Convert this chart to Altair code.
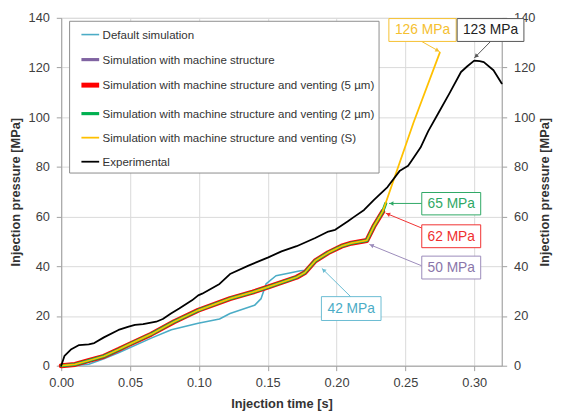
import math
import altair as alt
import pandas as pd

# ---------------- data ----------------
series = [
    "Default simulation",
    "Simulation with machine structure",
    "Simulation with machine structure and venting (5 µm)",
    "Simulation with machine structure and venting (2 µm)",
    "Simulation with machine structure and venting (S)",
    "Experimental",
]
colors = ["#4bacc6", "#8064a2", "#ff0000", "#00b050", "#ffc000", "#000000"]
widths = [1.6, 3.2, 5.0, 3.2, 1.8, 1.8]

# default simulation
def_t = [0.000, 0.010, 0.020, 0.031, 0.0416, 0.0654, 0.080, 0.0995, 0.115, 0.1226,
         0.1404, 0.1452, 0.1488, 0.156, 0.165, 0.1738, 0.176]
def_p = [0.0, 0.1, 0.6, 2.8, 5.2, 11.1, 14.5, 17.1, 18.8, 21.0,
         24.3, 27.0, 32.9, 36.2, 37.2, 38.2, 38.3]

# common path of the machine-structure simulations
sim_t = [0.000, 0.010, 0.019, 0.031, 0.0416, 0.049, 0.0654, 0.082, 0.0995, 0.1226,
         0.139, 0.150, 0.171, 0.177, 0.1845, 0.194, 0.2036, 0.2107, 0.222]
sim_p = [0.0, 0.5, 1.9, 3.8, 6.5, 8.5, 12.7, 17.7, 22.3, 27.0,
         29.6, 31.6, 35.6, 37.5, 42.2, 45.5, 48.1, 49.3, 50.4]
v5_t = [0.227, 0.2335]
v5_p = [56.0, 62.0]
v2_t = [0.227, 0.2335, 0.2357]
v2_p = [56.0, 62.0, 65.3]
vs_t = [0.227, 0.2335, 0.2357, 0.256, 0.275]
vs_p = [56.0, 62.0, 65.5, 98.0, 126.0]

# experimental
exp_t = [0.000, 0.0024, 0.007, 0.013, 0.020, 0.024, 0.031, 0.0416, 0.049, 0.0536,
         0.0595, 0.069, 0.0738, 0.0797, 0.0857, 0.095, 0.0995, 0.1024, 0.115, 0.1226,
         0.136, 0.150, 0.160, 0.171, 0.1845, 0.194, 0.199, 0.208, 0.213, 0.220,
         0.227, 0.237, 0.246, 0.252, 0.2545, 0.261, 0.2666, 0.274, 0.282, 0.2904,
         0.295, 0.300, 0.304, 0.307, 0.314, 0.320]
exp_p = [0.0, 4.0, 6.5, 8.3, 8.6, 9.1, 11.4, 14.4, 15.7, 16.4,
         16.7, 17.7, 18.8, 21.0, 23.0, 26.3, 28.3, 29.0, 32.9, 36.9,
         40.3, 43.5, 46.0, 48.1, 51.4, 54.0, 54.7, 58.0, 60.0, 62.7,
         66.6, 71.9, 78.5, 80.5, 82.5, 87.8, 94.4, 101.7, 109.6, 118.2,
         120.5, 122.8, 122.6, 122.2, 118.9, 113.6]

x_ticks = [0.00, 0.05, 0.10, 0.15, 0.20, 0.25, 0.30]
y_ticks = [0, 20, 40, 60, 80, 100, 120, 140]

# annotations
ann_text = ["126 MPa", "123 MPa", "65 MPa", "62 MPa", "50 MPa", "42 MPa"]
ann_color = ["#f5c030", "#222222", "#2ea865", "#f03030", "#8a76aa", "#4bacc6"]
ann_line = ["#f5c030", "#555555", "#2ea865", "#f03030", "#9a8aba", "#6bbcd2"]
box_x1 = [0.2380, 0.2876, 0.2619, 0.2619, 0.2619, 0.1890]
box_x2 = [0.2869, 0.3361, 0.3047, 0.3047, 0.3047, 0.2323]
box_y1 = [130.5, 130.5, 60.7, 47.5, 34.9, 18.2]
box_y2 = [139.7, 139.7, 69.7, 56.7, 44.1, 27.8]
arr_x1 = [0.2618, 0.3119, 0.2619, 0.2619, 0.2619, 0.2106]
arr_y1 = [130.5, 130.5, 65.3, 55.4, 40.2, 27.6]
arr_x2 = [0.2749, 0.3000, 0.2381, 0.2357, 0.2238, 0.1893]
arr_y2 = [126.4, 123.8, 65.3, 61.4, 48.8, 39.2]

# ---------------- chart ----------------
W, H = 447, 353
X_MAX, Y_MAX = 0.32, 140
FONT = "Liberation Sans"

x_scale = alt.Scale(domain=[0, X_MAX], nice=False, zero=False, padding=0)
y_scale = alt.Scale(domain=[0, Y_MAX], nice=False, padding=0)

x_axis = alt.Axis(values=x_ticks, format=".2f", title="Injection time [s]",
                  grid=True, gridColor="#d9d9d9", domainColor="#a0a0a0",
                  tickColor="#a0a0a0", tickSize=5, labelPadding=6, labelFlush=False,
                  labelFontSize=13, labelColor="#404040", labelFont=FONT,
                  titleFont=FONT, titleFontSize=13, titleFontWeight="bold",
                  titleColor="#333333", titlePadding=8)
y_axis_l = alt.Axis(values=y_ticks, title="Injection pressure [MPa]",
                    grid=True, gridColor="#d9d9d9", domainColor="#a0a0a0",
                    tickColor="#a0a0a0", tickSize=5, labelPadding=7, labelFlush=False,
                    labelFontSize=13, labelColor="#404040", labelFont=FONT,
                    titleFont=FONT, titleFontSize=13, titleFontWeight="bold",
                    titleColor="#333333", titlePadding=6)
y_axis_r = alt.Axis(values=y_ticks, title="Injection pressure [MPa]", orient="right",
                    grid=False, domainColor="#a0a0a0", labelFlush=False,
                    tickColor="#a0a0a0", tickSize=5, labelPadding=7,
                    labelFontSize=13, labelColor="#404040", labelFont=FONT,
                    titleFont=FONT, titleFontSize=13, titleFontWeight="bold",
                    titleColor="#333333", titlePadding=17, titleAngle=270)

legend = alt.Legend(title=None, orient="none", legendX=8, legendY=3,
                    fillColor="white", strokeColor="#8c8c8c", padding=4,
                    symbolType="stroke", symbolSize=324, symbolOffset=6,
                    labelFont=FONT, labelFontSize=11.7, labelColor="#333333",
                    labelLimit=0, labelOffset=1, rowPadding=7.4)

color_enc = alt.Color("series:N", scale=alt.Scale(domain=series, range=colors), legend=legend)
width_enc = alt.StrokeWidth("series:N",
                            scale=alt.Scale(type="ordinal", domain=series, range=widths),
                            legend=legend)


def frame(name, ts, ps):
    return pd.DataFrame({"t": ts, "p": ps, "series": name})


frames = [
    frame(series[0], def_t, def_p),
    frame(series[1], sim_t, sim_p),
    frame(series[2], sim_t + v5_t, sim_p + v5_p),
    frame(series[3], sim_t + v2_t, sim_p + v2_p),
    frame(series[4], sim_t + vs_t, sim_p + vs_p),
    frame(series[5], exp_t, exp_p),
]

line_layers = []
for df in frames:
    line_layers.append(
        alt.Chart(df).mark_line(strokeJoin="round", strokeCap="round").encode(
            x=alt.X("t:Q", scale=x_scale, axis=x_axis),
            y=alt.Y("p:Q", scale=y_scale, axis=y_axis_l),
            color=color_enc,
            strokeWidth=width_enc,
            order="t:Q",
        )
    )

# annotations
sx = W / X_MAX
sy = H / Y_MAX
ang, hx, hy = [], [], []
for a, b, c, d in zip(arr_x1, arr_y1, arr_x2, arr_y2):
    dx = (c - a) * sx
    dys = -(d - b) * sy
    L = math.hypot(dx, dys)
    ang.append(math.degrees(math.atan2(dx, -dys)) % 360)
    hx.append(c - dx / L * 2.5 / sx)
    hy.append(d + dys / L * 2.5 / sy)

ann = pd.DataFrame({
    "label": ann_text, "tc": ann_color, "lc": ann_line,
    "bx1": box_x1, "bx2": box_x2, "by1": box_y1, "by2": box_y2,
    "cx": [(a + b) / 2 for a, b in zip(box_x1, box_x2)],
    "cy": [(a + b) / 2 for a, b in zip(box_y1, box_y2)],
    "ax1": arr_x1, "ay1": arr_y1, "ax2": arr_x2, "ay2": arr_y2,
    "hx": hx, "hy": hy, "ang": ang,
})

base_ann = alt.Chart(ann)
arrows = base_ann.mark_rule(strokeWidth=1).encode(
    x=alt.X("ax1:Q", scale=x_scale, axis=x_axis),
    y=alt.Y("ay1:Q", scale=y_scale, axis=y_axis_l),
    x2="ax2:Q", y2="ay2:Q",
    color=alt.Color("lc:N", scale=None, legend=None),
)
heads = base_ann.mark_point(shape="triangle-up", filled=True, size=22, opacity=1).encode(
    x=alt.X("hx:Q", scale=x_scale, axis=x_axis),
    y=alt.Y("hy:Q", scale=y_scale, axis=y_axis_l),
    angle=alt.Angle("ang:Q", scale=None),
    color=alt.Color("lc:N", scale=None, legend=None),
)
boxes = base_ann.mark_rect(fill="white", strokeWidth=1).encode(
    x=alt.X("bx1:Q", scale=x_scale, axis=x_axis),
    x2="bx2:Q",
    y=alt.Y("by1:Q", scale=y_scale, axis=y_axis_l),
    y2="by2:Q",
    stroke=alt.Stroke("lc:N", scale=None, legend=None),
)
texts = base_ann.mark_text(font=FONT, fontSize=14, baseline="middle", align="center", dy=0.5).encode(
    x=alt.X("cx:Q", scale=x_scale, axis=x_axis),
    y=alt.Y("cy:Q", scale=y_scale, axis=y_axis_l),
    text="label:N",
    color=alt.Color("tc:N", scale=None, legend=None),
)

main = alt.layer(*line_layers, arrows, heads, boxes, texts)

right = alt.Chart(frames[5]).mark_point(opacity=0).encode(
    x=alt.X("t:Q", scale=x_scale, axis=x_axis),
    y=alt.Y("p:Q", scale=alt.Scale(domain=[0, Y_MAX], nice=False, padding=0), axis=y_axis_r),
)

chart = alt.layer(main, right).resolve_scale(y="independent").properties(
    width=W, height=H,
    autosize=alt.AutoSizeParams(type="none"),
    padding={"left": 54, "top": 7, "right": 52, "bottom": 44},
).configure_view(stroke=None).configure(font=FONT)

chart.save("out.html", embed_options={"renderer": "svg", "actions": False})
